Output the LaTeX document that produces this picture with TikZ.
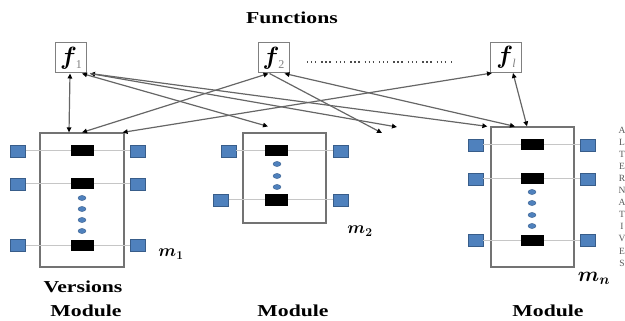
\documentclass[tikz,border=0pt]{standalone}
\usepackage{amsmath}
\usepackage{fontspec}
\setmainfont{Liberation Serif}
\newfontfamily\headfont{Liberation Serif}[FakeStretch=1.3]
\usepackage{tikz}
\usetikzlibrary{arrows.meta, shapes.geometric}

\definecolor{portblue}{RGB}{79,129,189}
\definecolor{portedge}{RGB}{56,93,138}

\tikzset{
  fbox/.style={draw=gray, line width=1pt, minimum width=31pt, minimum height=30pt, inner sep=0pt},
  modbox/.style={draw=gray!90!black, line width=1.2pt, inner sep=0pt},
  port/.style={draw=portedge, fill=portblue, line width=0.6pt, minimum width=15pt, minimum height=12pt, inner sep=0pt},
  ver/.style={fill=black, minimum width=23pt, minimum height=11pt, inner sep=0pt},
  vdot/.style={ellipse, draw=portedge, fill=portblue, line width=0.4pt, minimum width=8pt, minimum height=5pt, inner sep=0pt},
  row/.style={draw=gray!45, line width=1pt},
  link/.style={draw=gray!80!black, line width=1.2pt},
  head/.style={font=\headfont\fontsize{16.7}{18}\selectfont\bfseries},
  mlabel/.style={font=\fontsize{17}{17}\selectfont\boldmath},
}

% f with a small grey index
\newcommand{\fname}[1]{\fontsize{25}{25}\selectfont$\boldsymbol{f}$\kern-1pt\raisebox{-4pt}{\fontsize{12}{12}\selectfont\textcolor{gray}{#1}}}

\begin{document}
\begin{tikzpicture}[x=1pt, y=-1pt, >={Triangle[length=5pt, width=4.5pt, color=black]}]
  \useasboundingbox (0,0) rectangle (625,321);

  % Functions
  \node[head] (ftitle) at (292,18) {Functions};
  \node[fbox] (f1) at (71,58) {\fname{1}};
  \node[fbox] (f2) at (273.5,58) {\fname{2}};
  \node[fbox] (fl) at (506,57.5) {\fname{\textit{l}}};
  \draw[gray!60!black, line width=1.4pt, dash pattern=on 1.4pt off 2.6pt on 1.4pt off 2.6pt on 1.4pt off 5pt]
    (307,62) -- (452,62);

  % Module m1
  \node[modbox, minimum width=84pt, minimum height=134pt] (m1) at (82,200) {};
  \foreach \y [count=\i] in {151,184,245} {
    \node[port] (m1l\i) at (18,\y) {};
    \node[port] (m1r\i) at (138,\y) {};
    \draw[row] (m1l\i) -- (m1r\i);
    \node[ver] (m1v\i) at (82,\y) {};
  }
  \foreach \y [count=\i] in {198,209,220,231}
    \node[vdot] (m1d\i) at (82,\y) {};
  \node[mlabel] (m1name) at (171,254) {$m_1$};

  % Module m2
  \node[modbox, minimum width=83pt, minimum height=90pt] (m2) at (284.5,178) {};
  \node[port] (m2l1) at (228.5,151) {};
  \node[port] (m2l2) at (221,200) {};
  \foreach \y [count=\i] in {151,200} {
    \node[port] (m2r\i) at (340.5,\y) {};
    \draw[row] (m2l\i) -- (m2r\i);
    \node[ver] (m2v\i) at (276.5,\y) {};
  }
  \foreach \y [count=\i] in {164,176,187}
    \node[vdot] (m2d\i) at (277,\y) {};
  \node[mlabel] (m2name) at (360,231) {$m_2$};

  % Module mn
  \node[modbox, minimum width=83pt, minimum height=140pt] (mn) at (532.5,197) {};
  \foreach \y [count=\i] in {145,179,240} {
    \node[port] (mnl\i) at (475.5,\y) {};
    \node[port] (mnr\i) at (588,\y) {};
    \draw[row] (mnl\i) -- (mnr\i);
    \node[ver] (mnv\i) at (532,\y) {};
  }
  \foreach \y [count=\i] in {192,203,215,226}
    \node[vdot] (mnd\i) at (532,\y) {};
  \node[mlabel, font=\fontsize{20}{20}\selectfont\boldmath] (mnname) at (594,278) {$m_n$};

  % Captions
  \node[head] (vcap) at (83,287) {Versions};
  \node[head] (mcap1) at (86,311) {Module};
  \node[head] (mcap2) at (293,311) {Module};
  \node[head] (mcap3) at (548,311) {Module};
  \node[text=gray!70!black, font=\fontsize{9.5}{12.1}\selectfont, align=center, inner sep=0pt]
    (alt) at (622,196.5) {A\\L\\T\\E\\R\\N\\A\\T\\I\\V\\E\\S};

  % Free ends
  \coordinate (e1) at (397,127);
  \coordinate (e2) at (382,133);

  % Links
  \draw[link, <->] ([xshift=-1pt]f1.south) -- ([xshift=-13pt]m1.north);
  \draw[link, <->] ([xshift=-5pt]f2.south) -- (m1.north);
  \draw[link, <->] ([xshift=2pt]fl.south west) -- ([xshift=-2pt]m1.north east);
  \draw[link, <->] ([xshift=11pt]f1.south) -- ([xshift=-16.5pt, yshift=6pt]m2.north);
  \draw[link, <->] ([xshift=3pt]f1.south east) -- ([xshift=-3pt]mn.north west);
  \draw[link, ->] ([xshift=3pt]f1.south east) -- (e1);
  \draw[link, ->] ([xshift=-4pt]f2.south) -- (e2);
  \draw[link, <->] ([xshift=11pt]f2.south) -- ([xshift=-17.5pt]mn.north);
  \draw[link, <->] ([xshift=7pt]fl.south) -- ([xshift=-5.5pt]mn.north);
\end{tikzpicture}
\end{document}
